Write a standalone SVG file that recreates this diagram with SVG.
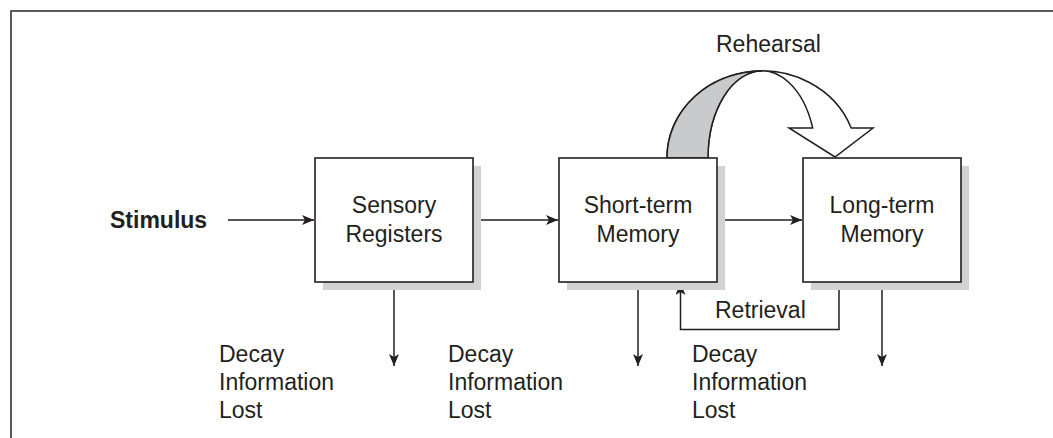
<svg xmlns="http://www.w3.org/2000/svg" width="1053" height="438" viewBox="0 0 1053 438">
  <defs>
    <style>
      .frame { fill: none; stroke: #5a5a5a; stroke-width: 2; }
      .box { fill: #ffffff; stroke: #231f20; stroke-width: 1.6; }
      .shadow { fill: #d1d2d4; }
      .line { fill: none; stroke: #231f20; stroke-width: 1.5; }
      .label { font-family: "Liberation Sans", Arial, sans-serif; font-size: 23px; fill: #231f20; }
      .bold { font-weight: bold; }
      .mid { text-anchor: middle; }
    </style>
    <marker id="arrow" viewBox="0 0 12 10" refX="12" refY="5" markerWidth="12" markerHeight="10" markerUnits="userSpaceOnUse" orient="auto">
      <path d="M0,0 L12,5 L0,10 L3,5 Z" fill="#231f20"/>
    </marker>
  </defs>

  <rect width="1053" height="438" fill="#ffffff"/>
  <!-- outer frame, open to the right and bottom -->
  <path class="frame" d="M11,440 V11 H1055"/>

  <!-- connectors -->
  <g id="connectors">
    <line class="line" x1="228" y1="220" x2="314" y2="220" marker-end="url(#arrow)"/>
    <line class="line" x1="473" y1="220" x2="558" y2="220" marker-end="url(#arrow)"/>
    <line class="line" x1="717" y1="220" x2="802" y2="220" marker-end="url(#arrow)"/>
    <line class="line" x1="394" y1="282" x2="394" y2="366" marker-end="url(#arrow)"/>
    <line class="line" x1="638" y1="282" x2="638" y2="366" marker-end="url(#arrow)"/>
    <line class="line" x1="882" y1="282" x2="882" y2="366" marker-end="url(#arrow)"/>
    <path class="line" d="M839,282 V329.5 H680.5 V283" marker-end="url(#arrow)"/>
    <text class="label" x="715" y="318">Retrieval</text>

    <!-- rehearsal ribbon arrow -->
    <g id="rehearsal">
      <path d="M667,158 A95,87 0 0 1 851.2,128 L873,128 L835,157 L789,128 L812.7,128 A54,87 0 0 0 708,158 Z" fill="#ffffff" stroke="#231f20" stroke-width="1.5" stroke-linejoin="miter"/>
      <path d="M667,158 A95,87 0 0 1 762,71 A54,87 0 0 0 708,158 Z" fill="#c9cacc" stroke="#231f20" stroke-width="1.5"/>
      <text class="label" x="716" y="52">Rehearsal</text>
    </g>
  </g>

  <!-- stimulus -->
  <g id="stimulus">
    <text class="label bold" x="110" y="228">Stimulus</text>
  </g>

  <!-- sensory registers -->
  <g id="sensory-registers">
    <rect class="shadow" x="323" y="166" width="158" height="124"/>
    <rect class="box" x="315" y="158" width="158" height="124"/>
    <text class="label mid" x="394" y="213">Sensory</text>
    <text class="label mid" x="394" y="242">Registers</text>
  </g>

  <!-- short-term memory -->
  <g id="short-term-memory">
    <rect class="shadow" x="567" y="166" width="158" height="124"/>
    <rect class="box" x="559" y="158" width="158" height="124"/>
    <text class="label mid" x="638" y="213">Short-term</text>
    <text class="label mid" x="638" y="242">Memory</text>
  </g>

  <!-- long-term memory -->
  <g id="long-term-memory">
    <rect class="shadow" x="811" y="166" width="158" height="124"/>
    <rect class="box" x="803" y="158" width="158" height="124"/>
    <text class="label mid" x="882" y="213">Long-term</text>
    <text class="label mid" x="882" y="242">Memory</text>
  </g>

  <!-- decay labels -->
  <g id="decay-sensory">
    <text class="label" x="219" y="362">Decay</text>
    <text class="label" x="219" y="390">Information</text>
    <text class="label" x="219" y="418">Lost</text>
  </g>
  <g id="decay-short">
    <text class="label" x="448" y="362">Decay</text>
    <text class="label" x="448" y="390">Information</text>
    <text class="label" x="448" y="418">Lost</text>
  </g>
  <g id="decay-long">
    <text class="label" x="692" y="362">Decay</text>
    <text class="label" x="692" y="390">Information</text>
    <text class="label" x="692" y="418">Lost</text>
  </g>
</svg>
